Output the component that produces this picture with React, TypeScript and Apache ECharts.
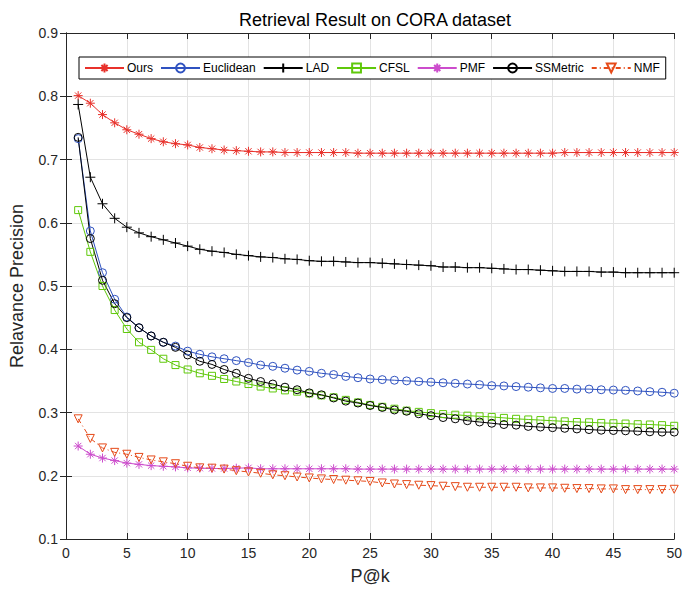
import React, { useEffect, useRef } from "react";
import * as echarts from "echarts";

const kValues = [
  1, 2, 3, 4, 5, 6, 7, 8, 9, 10, 11, 12, 13, 14, 15, 16, 17, 18, 19, 20, 21, 22, 23, 24, 25,
  26, 27, 28, 29, 30, 31, 32, 33, 34, 35, 36, 37, 38, 39, 40, 41, 42, 43, 44, 45, 46, 47, 48, 49, 50,
];

const ours = [
  0.801, 0.789, 0.771, 0.758, 0.747, 0.740, 0.733, 0.728, 0.725, 0.723, 0.719, 0.717, 0.715, 0.714, 0.713,
  0.712, 0.712, 0.711, 0.711, 0.711, 0.711, 0.711, 0.711, 0.710, 0.710, 0.710, 0.710, 0.710, 0.710, 0.710,
  0.710, 0.710, 0.710, 0.710, 0.710, 0.710, 0.710, 0.710, 0.710, 0.710, 0.711, 0.711, 0.711, 0.711, 0.711,
  0.711, 0.711, 0.711, 0.711, 0.711,
];
const euclidean = [
  0.733, 0.587, 0.521, 0.479, 0.451, 0.434, 0.421, 0.411, 0.405, 0.397, 0.392, 0.388, 0.385, 0.382, 0.379,
  0.375, 0.373, 0.370, 0.367, 0.365, 0.362, 0.360, 0.357, 0.355, 0.353, 0.352, 0.351, 0.350, 0.349, 0.348,
  0.347, 0.346, 0.345, 0.344, 0.3425, 0.342, 0.341, 0.340, 0.339, 0.338, 0.338, 0.337, 0.337, 0.336, 0.3355,
  0.335, 0.334, 0.333, 0.332, 0.3305,
];
const lad = [
  0.787, 0.672, 0.630, 0.607, 0.593, 0.584, 0.578, 0.573, 0.568, 0.563, 0.558, 0.555, 0.553, 0.550, 0.548,
  0.546, 0.545, 0.543, 0.542, 0.540, 0.539, 0.539, 0.538, 0.537, 0.537, 0.536, 0.535, 0.534, 0.533, 0.532,
  0.530, 0.530, 0.529, 0.529, 0.528, 0.527, 0.526, 0.526, 0.525, 0.524, 0.523, 0.523, 0.523, 0.522, 0.522,
  0.521, 0.521, 0.521, 0.521, 0.521,
];
const cfsl = [
  0.620, 0.554, 0.500, 0.462, 0.432, 0.411, 0.399, 0.385, 0.375, 0.368, 0.362, 0.358, 0.353, 0.349, 0.345,
  0.341, 0.338, 0.335, 0.333, 0.330, 0.327, 0.324, 0.320, 0.316, 0.312, 0.309, 0.306, 0.303, 0.301, 0.299,
  0.2975, 0.2965, 0.295, 0.294, 0.293, 0.2915, 0.290, 0.289, 0.288, 0.287, 0.286, 0.285, 0.2845, 0.2835, 0.283,
  0.2825, 0.2815, 0.281, 0.280, 0.279,
];
const pmf = [
  0.247, 0.234, 0.228, 0.224, 0.220, 0.218, 0.216, 0.215, 0.214, 0.2125, 0.212, 0.2115, 0.2115, 0.212, 0.2125,
  0.211, 0.211, 0.211, 0.211, 0.211, 0.211, 0.211, 0.211, 0.2105, 0.2105, 0.2105, 0.2105, 0.2105, 0.2105, 0.2105,
  0.2105, 0.2105, 0.2105, 0.2105, 0.2105, 0.2105, 0.2105, 0.2105, 0.2105, 0.2105, 0.2105, 0.2105, 0.2105, 0.2105, 0.2105,
  0.2105, 0.2105, 0.2105, 0.2105, 0.2105,
];
const ssmetric = [
  0.735, 0.575, 0.509, 0.472, 0.450, 0.434, 0.421, 0.411, 0.403, 0.391, 0.381, 0.376, 0.368, 0.362, 0.354,
  0.349, 0.345, 0.340, 0.336, 0.331, 0.328, 0.323, 0.318, 0.315, 0.311, 0.308, 0.304, 0.302, 0.298, 0.295,
  0.292, 0.290, 0.287, 0.285, 0.283, 0.281, 0.280, 0.278, 0.277, 0.276, 0.275, 0.274, 0.273, 0.272, 0.2715,
  0.271, 0.2705, 0.2695, 0.269, 0.269,
];
const nmf = [
  0.290, 0.259, 0.244, 0.237, 0.234, 0.229, 0.225, 0.222, 0.219, 0.215, 0.2125, 0.212, 0.2105, 0.208, 0.206,
  0.204, 0.2015, 0.200, 0.198, 0.1965, 0.195, 0.194, 0.193, 0.192, 0.191, 0.1886, 0.187, 0.186, 0.185, 0.1844,
  0.1834, 0.1828, 0.1818, 0.1818, 0.1818, 0.1818, 0.1818, 0.1808, 0.1808, 0.1808, 0.1802, 0.1797, 0.1797, 0.1792, 0.1792,
  0.1781, 0.1781, 0.1781, 0.1781, 0.1786,
];

const xTicks = { min: 0, max: 50, interval: 5 };
const yTicks = { min: 0.1, max: 0.9, interval: 0.1 };

const STAR = "path://M5,0L5,10M0,5L10,5M1.5,1.5L8.5,8.5M1.5,8.5L8.5,1.5";
const PLUS = "path://M5,0L5,10M0,5L10,5";
const CIRCLE = "path://M10,5A5,5 0 1,1 0,5A5,5 0 1,1 10,5Z";
const SQUARE = "path://M0,0L10,0L10,10L0,10Z";
const TRI_DOWN = "path://M0,0L10,0L5,9Z";

const FONT = "Liberation Sans, Arial, sans-serif";

function makeSeries(
  name: string,
  values: number[],
  color: string,
  symbol: string,
  symbolSize: number,
  lineType: any = "solid"
) {
  return {
    name,
    type: "line",
    data: kValues.map((k, i) => [k, values[i]]),
    symbol,
    symbolSize,
    showAllSymbol: true,
    lineStyle: { color, width: 1, type: lineType },
    itemStyle: { color: "rgba(255,255,255,0)", borderColor: color, borderWidth: 1 },
    emphasis: { disabled: true },
  };
}

export default function App() {
  const ref = useRef<HTMLDivElement>(null);
  useEffect(() => {
    document.body.style.margin = "0";
    if (!ref.current) return;
    const chart = echarts.init(ref.current, null, { renderer: "svg" });
    const axisLine = { show: true, lineStyle: { color: "#262626", width: 1 } };
    const axisTick = { show: true, inside: true, length: 6, lineStyle: { color: "#262626" } };
    chart.setOption({
      animation: false,
      backgroundColor: "#ffffff",
      title: {
        text: "Retrieval Result on CORA dataset",
        left: 370,
        textAlign: "center",
        top: 6,
        textStyle: { fontFamily: FONT, fontSize: 18, fontWeight: "normal", color: "#000" },
      },
      legend: {
        left: 79,
        top: 57,
        padding: [5, 6, 5, 5],
        itemGap: 7,
        itemWidth: 39,
        itemHeight: 11,
        borderColor: "#000",
        borderWidth: 1,
        backgroundColor: "#fff",
        textStyle: { fontFamily: FONT, fontSize: 12, color: "#000", padding: [0, 0, 0, -2] },
        data: ["Ours", "Euclidean", "LAD", "CFSL", "PMF", "SSMetric", "NMF"],
      },
      grid: { left: 63, right: 8, top: 33, bottom: 49, containLabel: false },
      xAxis: [
        {
          type: "value",
          ...xTicks,
          name: "P@k",
          nameLocation: "middle",
          nameGap: 28,
          nameTextStyle: { fontFamily: FONT, fontSize: 18, color: "#262626" },
          axisLine,
          axisTick,
          axisLabel: { fontFamily: FONT, fontSize: 14, color: "#262626", margin: 7 },
          splitLine: { show: true, lineStyle: { color: "#e3e3e3", width: 1 } },
        },
        {
          type: "value",
          ...xTicks,
          position: "top",
          axisLine,
          axisTick,
          axisLabel: { show: false },
          splitLine: { show: false },
        },
      ],
      yAxis: [
        {
          type: "value",
          ...yTicks,
          name: "Relavance Precision",
          nameLocation: "middle",
          nameGap: 40,
          nameTextStyle: { fontFamily: FONT, fontSize: 18, color: "#262626" },
          axisLine,
          axisTick,
          axisLabel: {
            fontFamily: FONT,
            fontSize: 14,
            color: "#262626",
            margin: 8,
            formatter: (v: number) => v.toFixed(1),
          },
          splitLine: { show: true, lineStyle: { color: "#e3e3e3", width: 1 } },
        },
        {
          type: "value",
          ...yTicks,
          position: "right",
          axisLine,
          axisTick,
          axisLabel: { show: false },
          splitLine: { show: false },
        },
      ],
      series: [
        makeSeries("Ours", ours, "#e8312b", STAR, 9),
        makeSeries("Euclidean", euclidean, "#2f52c0", CIRCLE, 8),
        makeSeries("LAD", lad, "#000000", PLUS, 10),
        makeSeries("CFSL", cfsl, "#5fc80a", SQUARE, 7),
        makeSeries("PMF", pmf, "#cc4ccc", STAR, 9),
        makeSeries("SSMetric", ssmetric, "#000000", CIRCLE, 8),
        makeSeries("NMF", nmf, "#e64a19", TRI_DOWN, 8, [5, 3, 1, 3]),
      ],
    });
    return () => chart.dispose();
  }, []);
  return <div ref={ref} style={{ width: 685, height: 590 }} />;
}
